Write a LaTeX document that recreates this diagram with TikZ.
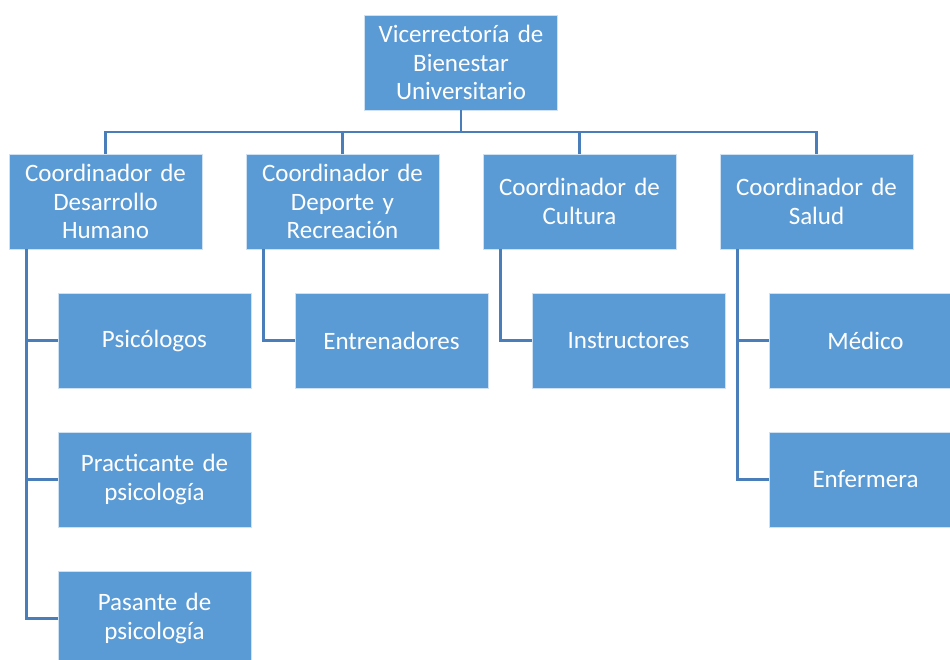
\documentclass[tikz,border=0pt]{standalone}
\usepackage{fontspec}
\setmainfont{Carlito}
\definecolor{boxfill}{HTML}{5B9BD5}
\definecolor{linec}{HTML}{4A7EBB}
\begin{document}
\begin{tikzpicture}[x=1pt,y=-1pt,
  orgbox/.style={draw=white!70!boxfill, line width=0.8pt, fill=boxfill, text=white,
    minimum width=193pt, minimum height=95pt, inner sep=0pt, text width=188pt,
    align=center, font=\fontsize{25}{28.5}\selectfont},
  conn/.style={draw=linec, line width=2.6pt}]
\useasboundingbox (0,0) rectangle (950,659);
\clip (0,0) rectangle (950,659);
\node[orgbox] (top) at (461,62.5) {Vicerrectoría de\\Bienestar\\Universitario};
\node[orgbox] (c1) at (105.5,201.5) {Coordinador de\\Desarrollo\\Humano};
\node[orgbox] (c2) at (342.5,201.5) {Coordinador de\\Deporte y\\Recreación};
\node[orgbox] (c3) at (579.5,201.5) {Coordinador de\\Cultura};
\node[orgbox] (c4) at (816.5,201.5) {Coordinador de\\Salud};
\node[orgbox] (psi) at (154.5,340.5) {Psicólogos};
\node[orgbox] (prac) at (154.5,479.5) {Practicante de\\psicología};
\node[orgbox] (pas) at (154.5,618.5) {Pasante de\\psicología};
\node[orgbox] (ent) at (391.5,340.5) {Entrenadores};
\node[orgbox] (ins) at (628.5,340.5) {Instructores};
\node[orgbox] (med) at (865.5,340.5) {Médico};
\node[orgbox] (enf) at (865.5,479.5) {Enfermera};
\coordinate (bar) at (461,132);
\draw[conn] (top.south) -- (bar);
\foreach \c in {c1,c2,c3,c4}{
  \draw[conn] (bar) -| (\c.north);
}
\coordinate (l1) at ([xshift=18pt]c1.south west);
\coordinate (l2) at ([xshift=18pt]c2.south west);
\coordinate (l3) at ([xshift=18pt]c3.south west);
\coordinate (l4) at ([xshift=18pt]c4.south west);
\draw[conn] (l1) |- (pas.west);
\draw[conn] (l1) |- (psi.west);
\draw[conn] (l1) |- (prac.west);
\draw[conn] (l2) |- (ent.west);
\draw[conn] (l3) |- (ins.west);
\draw[conn] (l4) |- (enf.west);
\draw[conn] (l4) |- (med.west);
\end{tikzpicture}
\end{document}
